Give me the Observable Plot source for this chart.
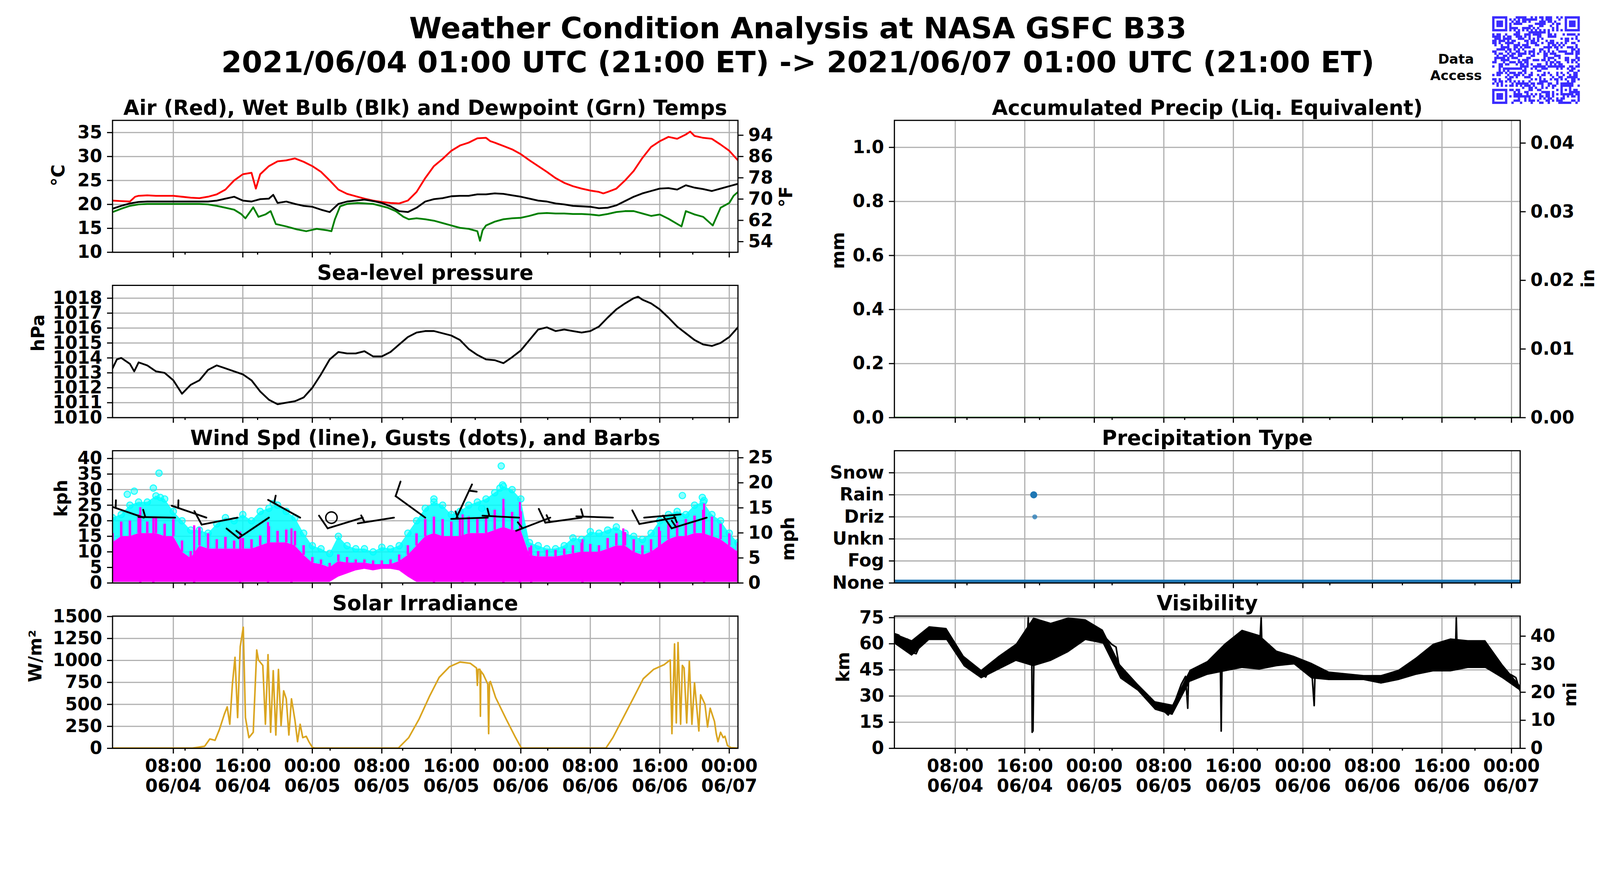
<!DOCTYPE html>
<html><head><meta charset="utf-8">
<script src="https://cdn.jsdelivr.net/npm/d3@7"></script>
<script src="https://cdn.jsdelivr.net/npm/@observablehq/plot@0.6"></script>
<style>
html,body{margin:0;padding:0;background:#fff;overflow:hidden;}
#root{position:absolute;left:0;top:0;width:4500px;height:2250px;background:#fff;overflow:hidden;font-family:"DejaVu Sans",sans-serif;font-weight:bold;transform-origin:0 0;}
.abs{position:absolute;}
</style></head><body><div id="root"></div>
<script>
// ---------------- DATA ----------------
const START = Date.UTC(2021, 5, 4, 1); // 2021-06-04 01:00 UTC, hours below are offsets from it
const xTickTimes = ["2021-06-04T08:00Z","2021-06-04T16:00Z","2021-06-05T00:00Z","2021-06-05T08:00Z","2021-06-05T16:00Z","2021-06-06T00:00Z","2021-06-06T08:00Z","2021-06-06T16:00Z","2021-06-07T00:00Z"];
const xMinorHours = [8.35, 16.7, 25.05, 33.4, 41.75, 50.1, 58.45, 66.8];

const airTemp = [[0,20.8],[1,20.7],[2,20.6],[2.6,21.6],[3,21.8],[4,21.9],[5,21.8],[6,21.8],[7,21.8],[8,21.6],[9,21.4],[10,21.3],[11,21.6],[12,22.1],[13,23.1],[14,25.0],[15,26.3],[16,26.6],[16.5,23.3],[17,26.3],[18,28.0],[19,29.0],[20,29.2],[21,29.6],[22,28.9],[23,28.0],[24,26.8],[25,25.0],[26,23.1],[27,22.2],[28,21.7],[29,21.2],[30,20.8],[31,20.5],[32,20.3],[33,20.2],[34,20.8],[35,22.6],[36,25.5],[37,28.0],[38,29.5],[39,31.2],[40,32.3],[41,32.9],[42,33.8],[43,33.9],[43.5,33.2],[44,32.9],[45,32.2],[46,31.5],[47,30.5],[48,29.2],[49,28.0],[50,26.8],[51,25.5],[52,24.5],[53,23.8],[54,23.3],[55,22.9],[56,22.6],[56.5,22.3],[57,22.6],[58,23.3],[59,25.0],[60,27.0],[61,29.7],[62,32.0],[63,33.2],[64,34.1],[65,33.7],[66,34.6],[66.5,35.2],[67,34.3],[68,33.9],[69,33.7],[70,32.5],[71,31.2],[72,29.2]];
const wetBulb = [[0,19.1],[1,19.7],[2,20.2],[3,20.5],[4,20.6],[5,20.6],[6,20.6],[7,20.6],[8,20.6],[9,20.6],[10,20.6],[11,20.6],[12,20.8],[13,21.2],[14,21.6],[15,20.8],[16,20.6],[17,21.1],[18,21.2],[18.5,22.0],[19,20.3],[20,20.6],[21,20.1],[22,19.7],[23,19.5],[24,18.9],[25,18.4],[26,20.1],[27,20.6],[28,20.8],[29,21.0],[30,20.7],[31,20.3],[32,19.6],[33,18.6],[34,18.4],[35,19.3],[36,20.6],[37,21.1],[38,21.3],[39,21.7],[40,21.8],[41,21.8],[42,22.1],[43,22.1],[44,22.3],[45,22.2],[46,21.9],[47,21.6],[48,21.2],[49,20.8],[50,20.6],[51,20.2],[52,20.0],[53,19.7],[54,19.6],[55,19.5],[56,19.2],[57,19.3],[58,19.8],[59,20.7],[60,21.6],[61,22.3],[62,22.8],[63,23.3],[64,23.4],[65,23.1],[66,24.0],[67,23.5],[68,23.2],[69,22.8],[70,23.3],[71,23.8],[72,24.3]];
const dewPoint = [[0,18.4],[1,19.1],[2,19.7],[3,20.0],[4,20.1],[6,20.1],[8,20.1],[10,20.1],[11,20.0],[12,19.7],[13,19.3],[14,18.9],[14.8,18.0],[15.3,17.1],[16.2,19.4],[16.8,17.4],[17.6,17.9],[18.2,18.6],[18.8,15.9],[20,15.4],[21.2,14.8],[22.3,14.4],[23.5,14.9],[24.7,14.6],[25.2,14.4],[25.6,16.9],[26.2,19.6],[27,20.1],[28.2,20.3],[30,20.1],[31.7,19.3],[32.6,18.6],[33.5,17.4],[34.1,16.9],[35,17.1],[36,16.9],[37,16.6],[38,16.1],[39,15.6],[40,15.1],[41,14.9],[42,14.4],[42.3,12.4],[42.6,14.6],[43,15.6],[44,16.4],[45,16.9],[46,17.1],[47,17.2],[48,17.6],[49,18.1],[50,18.2],[51,18.1],[52,18.1],[53,18.0],[54,18.0],[55,17.9],[56,17.7],[57,18.0],[58,18.4],[59,18.6],[60,18.6],[61,18.1],[62,17.6],[63,17.9],[64,17.0],[65.5,15.4],[66,18.6],[67,17.9],[68,17.4],[69.1,15.6],[70,19.3],[71,20.3],[71.5,21.8],[72,22.6]];
const tempTicksC = [10,15,20,25,30,35];
const tempTicksF = [54,62,70,78,86,94];

const pressure = [[0,1013.3],[0.5,1013.9],[1,1014.0],[2,1013.6],[2.5,1013.1],[3,1013.7],[4,1013.5],[5,1013.1],[6,1013.0],[7,1012.5],[8,1011.6],[9,1012.2],[10,1012.5],[11,1013.2],[12,1013.5],[13,1013.3],[14,1013.1],[15,1012.9],[16,1012.5],[17,1011.75],[18,1011.2],[19,1010.9],[20,1011.0],[21,1011.1],[22,1011.35],[23,1012.0],[24,1012.9],[25,1013.9],[26,1014.4],[27,1014.3],[28,1014.3],[29,1014.45],[30,1014.1],[31,1014.1],[32,1014.4],[33,1014.9],[34,1015.4],[35,1015.7],[36,1015.8],[37,1015.8],[38,1015.65],[39,1015.5],[40,1015.2],[41,1014.6],[42,1014.2],[43,1013.9],[44,1013.85],[45,1013.65],[46,1014.05],[47,1014.5],[48,1015.2],[49,1015.9],[50,1016.05],[51,1015.8],[52,1015.9],[53,1015.8],[54,1015.7],[55,1015.8],[56,1016.1],[57,1016.7],[58,1017.25],[59,1017.65],[60,1018.0],[60.5,1018.1],[61,1017.9],[62,1017.65],[63,1017.25],[64,1016.7],[65,1016.1],[66,1015.65],[67,1015.2],[68,1014.9],[69,1014.8],[70,1015.0],[71,1015.4],[72,1016.05]];
const pressureTicks = [1010,1011,1012,1013,1014,1015,1016,1017,1018];

// wind, hourly (index = hour offset)
const windHiKph = [16,19.7,20,22,19.7,20.9,19,20.5,13.6,10.2,17.8,15.9,14,14.8,13.6,14.4,14,15.2,18.2,16.7,17.1,16.7,12.1,8.3,7.5,6.4,9.1,8.3,7.5,7.5,7.2,7.2,7.5,9.1,12.1,15.9,20.5,21.3,20.5,19.7,20.5,21.3,20.5,20.9,23.5,24,22.8,23,11.4,10.2,10.6,10.6,11,12.1,12.9,12.5,12.1,14.4,15.9,16.3,14,12.1,14,16.7,19,19.7,20.5,21.6,23.5,21.3,19,15.9,12.9];
const windMidKph = [13,15,15,16,16,16,15,15,10,8,12,11,11,11,11,11,11,12,13,13,13,12,9,6.5,6,5,7,6.5,6.5,6.5,6,6,6,7,9,12,15,16,15,15,15,16,16,16,17,18,17,17,9,8.5,8.5,8.5,9,9.5,10,10,10,11,12,12,10,9,10,12,14,15,15,16,16,15,14,12,10];
const windLoKph = [0.3,0.3,0.3,0.3,0.3,0.3,0.3,0.3,0.3,0.3,0.3,0.3,0.3,0.3,0.3,0.3,0.3,0.3,0.3,0.3,0.3,0.3,0.3,0.3,0.3,0.3,2,3,4,4.5,4,4.5,4.5,4,2,0.3,0.3,0.3,0.3,0.3,0.3,0.3,0.3,0.3,0.3,0.3,0.3,0.3,0.3,0.3,0.3,0.3,0.3,0.3,0.3,0.3,0.3,0.3,0.3,0.3,0.3,0.3,0.3,0.3,0.3,0.3,0.3,0.3,0.3,0.3,0.3,0.3,0.3];
const windSpikes = [[3.2,24.3],[4.7,21],[9.4,18.5],[14.7,16.5],[17.9,19.5],[20.6,17.5],[37,21],[40.3,22],[45,27],[46.9,26],[48.2,12],[54.1,14],[58.8,17.5],[62.9,18],[68.1,25.5]];
const gustKph = [21,22,25,26,26,28,27,23,20,17,17,16,19,21,20,22,20,23,24,25,23,21,16,12,11,9.5,15,12,11,11,10,11.5,11,12,16,20,24,26,25,22,23,25,26,27,29,31,30,27,13,12,11,11,12,14.5,14,16.5,16,17,18,16,15,14,16,20,22,23,22,25,26,22,20,16,13];
const gustOutliers = [[1.7,28.5],[2.5,29.5],[4.7,30.5],[5.35,35.3],[5.5,27.5],[18.5,25.5],[37,27],[42.5,24],[44.6,30.5],[44.75,37.6],[44.9,31.5],[65.6,28.1],[67.9,27.5],[68.1,26.5]];
const windTicksKph = [0,5,10,15,20,25,30,35,40];
const windTicksMph = [0,5,10,15,20,25];
// barbs: time (h), direction wind comes from (deg), speed (barb units: half=5, full=10)
const barbHours = [3.6,7.2,10.8,14.4,18.0,21.6,28.8,32.4,36.0,39.6,43.2,46.8,50.4,54.0,57.6,61.2,64.8,68.4];
const barbDir   = [289,271,289,259,236,299,253,261,306,25,268,273,249,262,272,85,260,253];
const barbSpeed = [5,5,5,10,15,5,10,5,10,5,5,5,5,15,5,5,10,15];
const calmHours = [25.2];
const barbLevelKph = 21;

const solar = [[0,3],[9.2,3],[10.6,23],[11.2,107],[11.8,91],[12.3,213],[12.9,396],[13.2,472],[13.5,274],[13.8,731],[14.1,1036],[14.4,350],[14.7,1157],[15.05,1378],[15.3,350],[15.7,122],[16.2,183],[16.6,1119],[16.8,1005],[17.3,944],[17.6,274],[17.9,1066],[18.2,183],[18.5,883],[18.8,152],[19.1,898],[19.4,259],[19.7,655],[20.0,563],[20.3,152],[20.6,563],[21.0,320],[21.3,76],[21.6,274],[21.9,122],[22.3,137],[22.6,76],[23.0,12],[23.3,3],[32.9,3],[34.1,122],[35.3,335],[36.5,594],[37.6,807],[38.8,929],[40.0,982],[40.6,975],[41.2,967],[41.9,914],[42.0,716],[42.1,899],[42.3,899],[42.35,365],[42.4,880],[42.7,838],[43.2,731],[43.3,167],[43.4,750],[43.5,761],[44.1,579],[45.3,335],[46.4,122],[47.0,15],[47.1,3],[56.8,3],[57.6,122],[58.8,350],[60.0,579],[61.1,792],[62.3,899],[63.5,952],[64.2,1005],[64.4,167],[64.7,1188],[64.9,289],[65.1,1203],[65.4,274],[65.6,944],[65.8,914],[66.1,289],[66.4,990],[66.7,274],[67.0,746],[67.5,198],[67.7,609],[68.2,502],[68.5,244],[68.8,457],[69.3,305],[69.5,167],[69.7,76],[70.0,183],[70.3,122],[70.5,137],[70.8,30],[71.2,8],[72,3]];
const solarTicks = [0,250,500,750,1000,1250,1500];

const precipAccum = [[0,0],[72,0]];
const precipTicksMm = [0,0.2,0.4,0.6,0.8,1.0];
const precipTicksIn = [0,0.01,0.02,0.03,0.04];

const ptypeLabels = ["None","Fog","Unkn","Driz","Rain","Snow"];
const ptypeNone = [[0,0],[72,0]];
const ptypeRain = [[16.03,4]];
const ptypeDriz = [[16.15,3]];

const visLine = [[0,65.8],[0.5,65],[1,60.4],[1.5,62.7],[2,55],[2.5,54.3],[3,59.7],[3.5,65],[4,67.3],[5,65.8],[6,65.8],[7,58.1],[8,50.5],[9,47.4],[10,42.8],[10.5,40.9],[11,45.9],[12,49],[13,51.3],[14,55.9],[15,61.2],[15.3,64.3],[15.4,75],[15.5,60],[15.8,58],[15.85,9.2],[15.95,10],[16.05,52],[16.5,61.2],[17,59.7],[17.5,67.3],[18,63.5],[18.5,71.2],[19,67.3],[19.5,73.5],[20,71.2],[21,73.5],[22,71.2],[23,68.9],[24,65],[25,59.7],[25.5,58.1],[26,42.8],[27,38.3],[28,34.4],[29,29.8],[30,24.5],[31,21.4],[31.5,19.1],[32,23],[33,36.7],[33.5,41.3],[33.75,23],[33.85,41],[34,42.8],[35,45.9],[36,47.4],[37,49],[37.5,49.5],[37.6,9.9],[37.7,49.5],[38,50.5],[39,53.6],[40,55.9],[41,58.1],[42,56.6],[42.2,75],[42.3,56],[43,54.3],[44,52],[45,51.3],[46,50.5],[47,49.7],[48,45.9],[48.3,24.5],[48.4,44],[49,42.1],[50,41.3],[51,41.3],[52,40.6],[53,40.6],[54,40.6],[55,39.8],[56,39.8],[57,40.6],[58,42.1],[59,44.4],[60,46.7],[61,49],[62,53.6],[63,54.3],[64,56.6],[64.55,55],[64.65,75],[64.75,55],[65,55.9],[66,54.3],[67,56.6],[68,53.6],[68.6,55],[69,47.4],[70,44.4],[71,42.1],[71.5,40.6],[72,32.9]];
const visBand = [[0,60,66],[2,53,62],[4,62,70],[6,62,69],[8,47,53],[10,40,45],[12,45,53],[14,50,60],[16,47,75],[18,50,72],[20,55,75],[22,62,74],[24,60,68],[26,40,48],[28,33,37],[30,22,27],[32,19,25],[34,38,45],[36,42,50],[38,44,60],[40,46,68],[42,45,65],[44,47,56],[46,48,53],[48,40,49],[50,39,44],[52,39,43],[54,39,42],[56,37,42],[58,39,45],[60,42,52],[62,44,60],[64,44,63],[66,46,62],[68,46,62],[70,40,48],[72,33,36]];
const visTicksKm = [0,15,30,45,60,75];
const visTicksMi = [0,10,20,30,40];

// ---------------- HELPERS ----------------
const T = h => new Date(START + h * 3600000);
const xTicks = xTickTimes.map(s => new Date(s));
const xMinor = xMinorHours.map(T);
const fmtH = d3.utcFormat("%H:%M"), fmtD = d3.utcFormat("%m/%d");
const root = document.getElementById("root");
const fit = Math.min(window.innerWidth / 4500, window.innerHeight / 2250);
if (fit > 0 && Math.abs(fit - 1) > 0.002) root.style.transform = `scale(${fit})`;
const GRID = "#b0b0b0", LW = 3.3;
const FONT = {fontFamily: "DejaVu Sans", fontSize: "50px", fontWeight: "bold", background: "transparent", overflow: "visible", maxWidth: "none", color: "black"};

const LX = 316, LW_ = 1759, RX = 2515, RW_ = 1760, PH = 372;

function panel({left, top, w, h, ydomain, yticks, yfmt, rticks, rfmt, title, ylabel, ylabelDx, rlabel, rlabelDx, marks, bottomLabels}) {
  const mL = 330, mR = 270, mT = 100, mB = bottomLabels ? 170 : 40;
  const all = [
    Plot.gridY(yticks, {stroke: GRID, strokeOpacity: 1, strokeWidth: LW}),
    Plot.gridX(xTicks, {stroke: GRID, strokeOpacity: 1, strokeWidth: LW}),
    ...marks,
    Plot.frame({stroke: "black", strokeWidth: LW}),
    Plot.axisX(xTicks, {tickSize: 15, strokeWidth: LW, tickFormat: () => "", label: null}),
    Plot.axisX(xMinor, {tickSize: 7, strokeWidth: LW, tickFormat: () => "", label: null}),
    Plot.axisY(yticks, {anchor: "left", tickSize: 15, tickPadding: 14, strokeWidth: LW, tickFormat: yfmt, label: null}),
    Plot.text([title], {text: d => d, frameAnchor: "top", dy: -16, lineAnchor: "bottom", fontSize: 58, fontWeight: "bold"})
  ];
  if (ylabel) all.push(Plot.text([ylabel], {text: d => d, frameAnchor: "left", dx: ylabelDx, rotate: -90, fontSize: 50, fontWeight: "bold"}));
  if (rticks) {
    all.push(Plot.axisY(rticks, {anchor: "right", tickSize: 15, tickPadding: 14, strokeWidth: LW, tickFormat: rfmt, label: null}));
    all.push(Plot.text([rlabel], {text: d => d, frameAnchor: "right", dx: rlabelDx, rotate: -90, fontSize: 50, fontWeight: "bold"}));
  }
  if (bottomLabels) {
    all.push(Plot.text(xTicks, {x: d => d, text: d => fmtH(d) + "\n" + fmtD(d), frameAnchor: "bottom", dy: 77, lineAnchor: "middle", lineHeight: 1.12, fontSize: 50, fontWeight: "bold"}));
  }
  const svg = Plot.plot({
    width: w + mL + mR, height: h + mT + mB,
    marginLeft: mL, marginRight: mR, marginTop: mT, marginBottom: mB,
    x: {type: "utc", domain: [T(0), T(72)]},
    y: {domain: ydomain},
    style: FONT,
    marks: all
  });
  svg.style.position = "absolute";
  svg.style.left = (left - mL) + "px";
  svg.style.top = (top - mT) + "px";
  root.appendChild(svg);
}

const px = d => T(d[0]), py = d => d[1];

// ---------- Temperature ----------
const c2f = c => c * 9 / 5 + 32, f2c = f => (f - 32) * 5 / 9;
panel({left: LX, top: 338, w: LW_, h: 371, ydomain: [10, 37.55], yticks: tempTicksC, yfmt: d => String(d),
  rticks: tempTicksF.map(f2c), rfmt: c => String(Math.round(c2f(c))),
  title: "Air (Red), Wet Bulb (Blk) and Dewpoint (Grn) Temps", ylabel: "°C", ylabelDx: -151, rlabel: "°F", rlabelDx: 137,
  marks: [
    Plot.line(airTemp, {x: px, y: py, stroke: "#ff0000", strokeWidth: 5, clip: true}),
    Plot.line(dewPoint, {x: px, y: py, stroke: "#008000", strokeWidth: 5, clip: true}),
    Plot.line(wetBulb, {x: px, y: py, stroke: "black", strokeWidth: 5, clip: true})
  ]});

// ---------- Pressure ----------
panel({left: LX, top: 802, w: LW_, h: 372, ydomain: [1010, 1018.86], yticks: pressureTicks, yfmt: d => String(d),
  title: "Sea-level pressure", ylabel: "hPa", ylabelDx: -208,
  marks: [Plot.line(pressure, {x: px, y: py, stroke: "black", strokeWidth: 5, clip: true})]});

// ---------- Wind ----------
const WDOM = [0, 42.5];
const pxPerHour = LW_ / 72, pxPerKph = PH / (WDOM[1] - WDOM[0]);
const BL = 103;
function barbSegments(t, dir, spd) {
  const a = dir * Math.PI / 180;
  const sx = Math.sin(a), sy = -Math.cos(a);   // screen unit vector, base -> flag end
  const qx = -sy, qy = sx;                      // flag side
  const pt = (off, ex = 0, ey = 0) => [t + (off * sx + ex) / pxPerHour, barbLevelKph - (off * sy + ey) / pxPerKph];
  const segs = [[pt(0), pt(BL)]];
  const nFull = Math.floor(spd / 10), half = (spd % 10) >= 5;
  const sp = 0.125 * BL;
  let off = BL;
  for (let i = 0; i < nFull; i++) {
    segs.push([pt(off), pt(off, 0.4 * BL * qx + 0.125 * BL * sx, 0.4 * BL * qy + 0.125 * BL * sy)]);
    off -= sp;
  }
  if (half) {
    if (off === BL) off -= 1.5 * sp;
    segs.push([pt(off), pt(off, 0.2 * BL * qx + 0.0625 * BL * sx, 0.2 * BL * qy + 0.0625 * BL * sy)]);
  }
  return segs;
}
const barbSegs = barbHours.flatMap((t, i) => barbSegments(t, barbDir[i], barbSpeed[i]));
const windEnv = windMidKph.map((v, i) => [i, windLoKph[i], v]);
const windPeaks = windHiKph.map((v, i) => [i, windMidKph[i], v]);
const gustBand = gustKph.map((v, i) => [i, windMidKph[i], v]);
const gustPts = gustKph.map((v, i) => [i, v]).concat(gustOutliers);
const k2m = k => k / 1.609344;
panel({left: LX, top: 1267, w: LW_, h: PH, ydomain: WDOM, yticks: windTicksKph, yfmt: d => String(d),
  rticks: windTicksMph.map(m => m * 1.609344), rfmt: k => String(Math.round(k2m(k))),
  title: "Wind Spd (line), Gusts (dots), and Barbs", ylabel: "kph", ylabelDx: -144, rlabel: "mph", rlabelDx: 142,
  marks: [
    Plot.areaY(gustBand, {x: px, y1: d => d[1], y2: d => d[2], fill: "#00ffff", fillOpacity: 0.85, clip: true}),
    Plot.dot(gustPts, {x: px, y: py, r: 9, fill: "#00ffff", fillOpacity: 0.45, stroke: "#00ffff", strokeOpacity: 0.85, strokeWidth: 3, clip: true}),
    Plot.areaY(windEnv, {x: px, y1: d => d[1], y2: d => d[2], fill: "#ff00ff", clip: true}),
    Plot.ruleX(windPeaks, {x: px, y1: d => d[1], y2: d => d[2], stroke: "#ff00ff", strokeWidth: 7, clip: true}),
    Plot.ruleX(windSpikes, {x: px, y1: 0, y2: py, stroke: "#ff00ff", strokeWidth: 6, clip: true}),
    Plot.link(barbSegs, {x1: d => T(d[0][0]), y1: d => d[0][1], x2: d => T(d[1][0]), y2: d => d[1][1], stroke: "black", strokeWidth: 5, strokeLinecap: "round", clip: true}),
    Plot.dot(calmHours, {x: d => T(d), y: () => barbLevelKph, r: 16, stroke: "black", strokeWidth: 4, fill: "none"})
  ]});

// ---------- Solar ----------
panel({left: LX, top: 1732, w: LW_, h: PH, ydomain: [0, 1505], yticks: solarTicks, yfmt: d => String(d),
  title: "Solar Irradiance", ylabel: "W/m²", ylabelDx: -216, bottomLabels: true,
  marks: [Plot.line(solar, {x: px, y: py, stroke: "#daa520", strokeWidth: 4.5, clip: true})]});

// ---------- Precip accumulation ----------
panel({left: RX, top: 338, w: RW_, h: 836, ydomain: [0, 1.1], yticks: precipTicksMm, yfmt: d => d.toFixed(1),
  rticks: precipTicksIn.map(i => i * 25.4), rfmt: mm => (mm / 25.4).toFixed(2),
  title: "Accumulated Precip (Liq. Equivalent)", ylabel: "mm", ylabelDx: -157, rlabel: "in", rlabelDx: 192,
  marks: [Plot.line(precipAccum, {x: px, y: py, stroke: "#008000", strokeWidth: 5, clip: true})]});

// ---------- Precip type ----------
panel({left: RX, top: 1267, w: RW_, h: PH, ydomain: [0, 6], yticks: [0,1,2,3,4,5], yfmt: i => ptypeLabels[i],
  title: "Precipitation Type", ylabel: "",
  marks: [
    Plot.line(ptypeNone, {x: px, y: py, stroke: "#1f77b4", strokeWidth: 19, clip: true}),
    Plot.dot(ptypeRain, {x: px, y: py, r: 10, fill: "#1f77b4", clip: true}),
    Plot.dot(ptypeDriz, {x: px, y: py, r: 7, fill: "#1f77b4", fillOpacity: 0.75, clip: true})
  ]});

// ---------- Visibility ----------
panel({left: RX, top: 1732, w: RW_, h: PH, ydomain: [0, 75.9], yticks: visTicksKm, yfmt: d => String(d),
  rticks: visTicksMi.map(m => m * 1.609344), rfmt: k => String(Math.round(k2m(k))),
  title: "Visibility", ylabel: "km", ylabelDx: -143, rlabel: "mi", rlabelDx: 142, bottomLabels: true,
  marks: [
    Plot.areaY(visBand, {x: px, y1: d => d[1], y2: d => d[2], fill: "black", clip: true}),
    Plot.line(visLine, {x: px, y: py, stroke: "black", strokeWidth: 4.5, clip: true})
  ]});

// ---------- Titles ----------
const title = document.createElement("div");
title.className = "abs";
title.style.cssText = "left:0;top:32px;width:4488px;text-align:center;font-size:83px;line-height:95px;white-space:pre;";
title.textContent = "Weather Condition Analysis at NASA GSFC B33\n2021/06/04 01:00 UTC (21:00 ET) -> 2021/06/07 01:00 UTC (21:00 ET)";
root.appendChild(title);

const da = document.createElement("div");
da.className = "abs";
da.style.cssText = "left:3995px;top:143px;width:200px;text-align:center;font-size:38px;line-height:46px;white-space:pre;";
da.textContent = "Data\nAccess";
root.appendChild(da);

// ---------- QR-style badge ----------
const N = 41, AL = 34;
function qrOn(r, c) {
  const fin = [[0,0],[0,N-7],[N-7,0]];
  for (const [r0, c0] of fin) {
    const dr = r - r0, dc = c - c0;
    if (dr >= -1 && dr <= 7 && dc >= -1 && dc <= 7) {
      if (dr < 0 || dr > 6 || dc < 0 || dc > 6) return false;
      const m = Math.max(Math.abs(dr - 3), Math.abs(dc - 3));
      return m !== 2;
    }
  }
  const da_ = Math.max(Math.abs(r - AL), Math.abs(c - AL));
  if (da_ <= 2) return da_ !== 1;
  if (r === 6) return c % 2 === 0;
  if (c === 6) return r % 2 === 0;
  let h = Math.imul(r + 1, 73856093) ^ Math.imul(c + 7, 19349663);
  h = Math.imul(h ^ (h >>> 13), 1274126177);
  h ^= h >>> 16;
  return ((h >>> 0) % 100) < 47;
}
const qrCells = [];
for (let r = 0; r < N; r++) for (let c = 0; c < N; c++) if (qrOn(r, c)) qrCells.push({r, c});
const qr = Plot.plot({
  width: 270, height: 270, margin: 0,
  x: {type: "band", domain: d3.range(N), padding: 0, axis: null},
  y: {type: "band", domain: d3.range(N), padding: 0, axis: null},
  style: {background: "transparent", maxWidth: "none"},
  marks: [Plot.cell(qrCells, {x: "c", y: "r", fill: "#3a2bff", inset: -0.3})]
});
qr.style.position = "absolute"; qr.style.left = "4185px"; qr.style.top = "34px";
root.appendChild(qr);
</script></body></html>
